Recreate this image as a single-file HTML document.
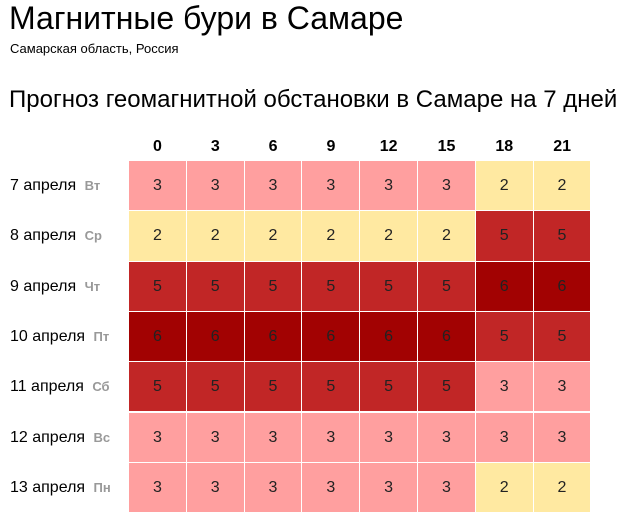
<!DOCTYPE html>
<html><head><meta charset="utf-8"><style>
body{margin:0;width:623px;height:524px;background:#fff;font-family:"Liberation Sans",Arial,sans-serif;position:relative;overflow:hidden;color:#000}
.a{position:absolute;white-space:nowrap}
.c{position:absolute;width:56px;height:49px;line-height:49px;text-align:center;font-size:16px;color:#222}
.h{position:absolute;width:57px;text-align:center;font-weight:bold;font-size:16px;top:138px}
.d{position:absolute;left:10px;font-size:16px;line-height:20px}
.d b{color:#999;font-size:13px;margin-left:4px}
</style></head><body>
<div class="a" style="left:9px;top:0px;font-size:32px;">Магнитные бури в Самаре</div>
<div class="a" style="left:10px;top:41px;font-size:13px;">Самарская область, Россия</div>
<div class="a" style="left:9px;top:86px;font-size:24px;">Прогноз геомагнитной обстановки в Самаре на 7 дней</div>
<div id="g"></div>
<script>
var hs=[0,3,6,9,12,15,18,21];
var data=[[3,3,3,3,3,3,2,2],[2,2,2,2,2,2,5,5],[5,5,5,5,5,5,6,6],[6,6,6,6,6,6,5,5],[5,5,5,5,5,5,3,3],[3,3,3,3,3,3,3,3],[3,3,3,3,3,3,2,2]];
var days=["7 апреля|Вт","8 апреля|Ср","9 апреля|Чт","10 апреля|Пт","11 апреля|Сб","12 апреля|Вс","13 апреля|Пн"];
var col={2:"#ffe9a1",3:"#ff9f9f",5:"#c12626",6:"#a20202"};
var x0=129,cw=57.8,y0=161,rh=50.3,s="";
for(var j=0;j<8;j++)s+='<div class="h" style="left:'+(x0+j*cw)+'px">'+hs[j]+'</div>';
for(var i=0;i<7;i++){var p=days[i].split("|");
s+='<div class="d" style="top:'+(y0+i*rh+15)+'px">'+p[0]+' <b>'+p[1]+'</b></div>';
for(var j=0;j<8;j++){var v=data[i][j];
s+='<div class="c" style="left:'+(x0+j*cw)+'px;top:'+(y0+i*rh)+'px;width:'+(cw-1)+'px;height:'+(rh-1)+'px;line-height:'+(rh-1)+'px;background:'+col[v]+'">'+v+'</div>';}}
document.getElementById("g").innerHTML=s;
</script>
</body></html>
